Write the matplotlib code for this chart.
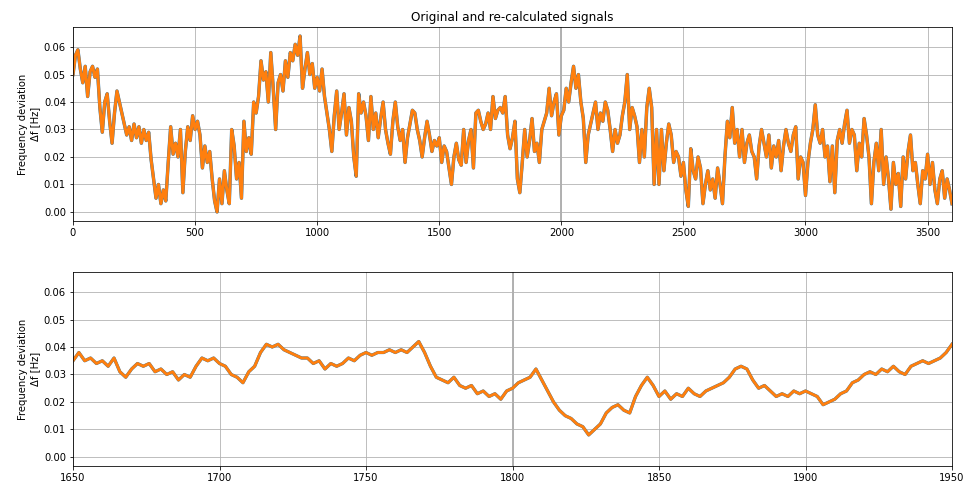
import numpy as np
import matplotlib
matplotlib.use("Agg")
import matplotlib.pyplot as plt

# ---- data: full record, one value every 10 s (0 .. 3600 s) ----
t_full_start, t_full_step = 0, 10
f_full = [
    0.050, 0.057, 0.059, 0.052, 0.047, 0.053, 0.042, 0.051, 0.053, 0.049,
    0.052, 0.038, 0.029, 0.040, 0.043, 0.033, 0.025, 0.036, 0.044, 0.040,
    0.036, 0.032, 0.028, 0.031, 0.026, 0.032, 0.027, 0.031, 0.025, 0.030,
    0.026, 0.029, 0.019, 0.012, 0.005, 0.010, 0.003, 0.008, 0.004, 0.018,
    0.031, 0.021, 0.025, 0.020, 0.030, 0.007, 0.022, 0.031, 0.026, 0.035,
    0.030, 0.033, 0.028, 0.016, 0.024, 0.018, 0.022, 0.012, 0.004, 0.000,
    0.012, 0.003, 0.015, 0.008, 0.003, 0.030, 0.024, 0.012, 0.018, 0.005,
    0.033, 0.022, 0.027, 0.021, 0.040, 0.036, 0.042, 0.055, 0.048, 0.051,
    0.040, 0.058, 0.045, 0.030, 0.047, 0.050, 0.044, 0.055, 0.049, 0.058,
    0.055, 0.061, 0.057, 0.064, 0.045, 0.052, 0.058, 0.050, 0.054, 0.045,
    0.049, 0.044, 0.052, 0.042, 0.036, 0.030, 0.022, 0.035, 0.044, 0.030,
    0.036, 0.043, 0.028, 0.038, 0.033, 0.020, 0.013, 0.043, 0.036, 0.040,
    0.035, 0.026, 0.042, 0.030, 0.036, 0.027, 0.034, 0.040, 0.030, 0.025,
    0.021, 0.033, 0.040, 0.031, 0.026, 0.030, 0.018, 0.027, 0.032, 0.037,
    0.036, 0.030, 0.026, 0.020, 0.027, 0.033, 0.028, 0.022, 0.026, 0.024,
    0.027, 0.018, 0.024, 0.022, 0.016, 0.010, 0.020, 0.025, 0.019, 0.017,
    0.030, 0.018, 0.026, 0.030, 0.016, 0.036, 0.037, 0.033, 0.030, 0.032,
    0.036, 0.030, 0.042, 0.034, 0.037, 0.038, 0.036, 0.042, 0.028, 0.023,
    0.027, 0.033, 0.012, 0.007, 0.018, 0.030, 0.020, 0.026, 0.034, 0.022,
    0.025, 0.018, 0.030, 0.033, 0.036, 0.045, 0.035, 0.040, 0.043, 0.028,
    0.035, 0.037, 0.045, 0.040, 0.047, 0.053, 0.045, 0.050, 0.040, 0.034,
    0.018, 0.028, 0.032, 0.036, 0.040, 0.030, 0.036, 0.033, 0.040, 0.037,
    0.030, 0.022, 0.030, 0.025, 0.028, 0.035, 0.040, 0.050, 0.030, 0.038,
    0.035, 0.031, 0.018, 0.030, 0.020, 0.038, 0.045, 0.038, 0.010, 0.030,
    0.010, 0.030, 0.015, 0.025, 0.032, 0.028, 0.018, 0.022, 0.020, 0.013,
    0.018, 0.008, 0.002, 0.023, 0.015, 0.012, 0.020, 0.016, 0.003, 0.010,
    0.015, 0.008, 0.012, 0.005, 0.016, 0.010, 0.003, 0.020, 0.033, 0.027,
    0.038, 0.025, 0.030, 0.020, 0.030, 0.018, 0.025, 0.028, 0.022, 0.020,
    0.012, 0.024, 0.030, 0.025, 0.020, 0.028, 0.016, 0.024, 0.020, 0.026,
    0.015, 0.024, 0.030, 0.025, 0.022, 0.028, 0.031, 0.012, 0.020, 0.018,
    0.006, 0.018, 0.025, 0.030, 0.039, 0.028, 0.025, 0.030, 0.020, 0.024,
    0.011, 0.024, 0.007, 0.026, 0.030, 0.025, 0.032, 0.037, 0.025, 0.030,
    0.028, 0.015, 0.025, 0.020, 0.034, 0.028, 0.020, 0.003, 0.018, 0.025,
    0.015, 0.030, 0.010, 0.020, 0.012, 0.001, 0.018, 0.010, 0.014, 0.002,
    0.020, 0.012, 0.022, 0.028, 0.015, 0.018, 0.010, 0.003, 0.015, 0.012,
    0.021, 0.010, 0.018, 0.008, 0.003, 0.012, 0.015, 0.005, 0.012, 0.008,
    0.003,
]

# ---- data: zoomed window 1650 .. 1950 s, one value every 2 s ----
t_zoom_start, t_zoom_step = 1650, 2
f_zoom = [
    0.035, 0.038, 0.035, 0.036, 0.034, 0.035, 0.033, 0.036, 0.031, 0.029,
    0.032, 0.034, 0.033, 0.034, 0.031, 0.032, 0.030, 0.031, 0.028, 0.030,
    0.029, 0.033, 0.036, 0.035, 0.036, 0.034, 0.033, 0.030, 0.029, 0.027,
    0.031, 0.033, 0.038, 0.041, 0.040, 0.041, 0.039, 0.038, 0.037, 0.036,
    0.036, 0.034, 0.035, 0.032, 0.034, 0.033, 0.034, 0.036, 0.035, 0.037,
    0.038, 0.037, 0.038, 0.038, 0.039, 0.038, 0.039, 0.038, 0.040, 0.042,
    0.038, 0.033, 0.029, 0.028, 0.027, 0.029, 0.026, 0.025, 0.026, 0.023,
    0.024, 0.022, 0.023, 0.021, 0.024, 0.025, 0.027, 0.028, 0.029, 0.032,
    0.028, 0.024, 0.020, 0.017, 0.015, 0.014, 0.012, 0.011, 0.008, 0.010,
    0.012, 0.016, 0.018, 0.019, 0.017, 0.016, 0.022, 0.026, 0.029, 0.026,
    0.022, 0.024, 0.021, 0.023, 0.022, 0.025, 0.023, 0.022, 0.024, 0.025,
    0.026, 0.027, 0.029, 0.032, 0.033, 0.032, 0.028, 0.025, 0.026, 0.024,
    0.022, 0.023, 0.022, 0.024, 0.023, 0.024, 0.023, 0.022, 0.019, 0.020,
    0.021, 0.023, 0.024, 0.027, 0.028, 0.030, 0.031, 0.030, 0.032, 0.031,
    0.033, 0.031, 0.030, 0.033, 0.034, 0.035, 0.034, 0.035, 0.036, 0.038,
    0.041,
]

# the re-calculated signal coincides with the original at this resolution
orig_full, recalc_full = f_full, f_full
orig_zoom, recalc_zoom = f_zoom, f_zoom

title = "Original and re-calculated signals"
ylabel = "Frequency deviation\n\u0394f [Hz]"
xlim_full = (0, 3600)
xlim_zoom = (1650, 1950)

t_full = t_full_start + t_full_step * np.arange(len(f_full))
t_zoom = t_zoom_start + t_zoom_step * np.arange(len(f_zoom))

fig = plt.figure(figsize=(966 / 72, 486 / 72), dpi=72)
ax1 = fig.add_axes([73 / 966, 1 - 221 / 486, (952 - 73) / 966, (221 - 27) / 486])
ax2 = fig.add_axes([73 / 966, 1 - 466 / 486, (952 - 73) / 966, (466 - 272) / 486],
                   sharey=ax1)

for ax, t, o, r, xl, vline, lwb, lwo in [
    (ax1, t_full, orig_full, recalc_full, xlim_full, 2000, 3.4, 3.0),
    (ax2, t_zoom, orig_zoom, recalc_zoom, xlim_zoom, 1800, 3.2, 2.9),
]:
    ax.plot(t, o, color="C0", lw=lwb)
    ax.plot(t, r, color="C1", lw=lwo)
    ax.set_xlim(*xl)
    ax.grid(True)
    ax.axvline(vline, color="#a0a0a0", lw=1.6, zorder=0)
    ax.set_ylabel(ylabel)

ax1.set_title(title)
ax1.set_ylim(-0.0033, 0.0673)
ax1.set_yticks([0.00, 0.01, 0.02, 0.03, 0.04, 0.05, 0.06])

fig.savefig("out.png", dpi=72)
